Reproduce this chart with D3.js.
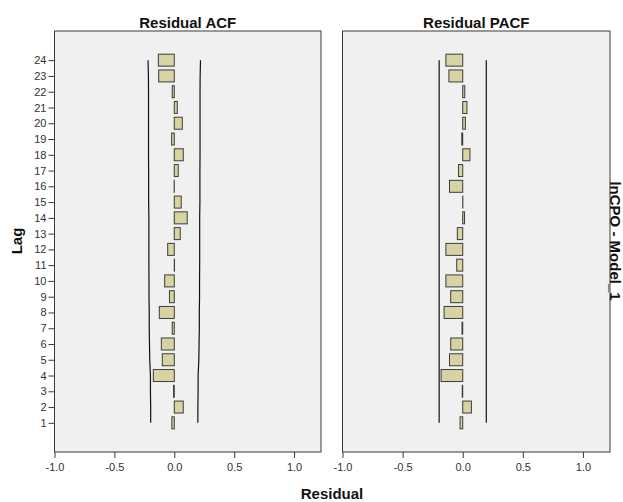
<!DOCTYPE html>
<html>
<head>
<meta charset="utf-8">
<script src="https://cdn.jsdelivr.net/npm/d3@7/dist/d3.min.js"></script>
<style>
  html, body { margin: 0; padding: 0; background: #ffffff; }
  svg { display: block; }
  text { font-family: "Liberation Sans", Arial, sans-serif; }
</style>
</head>
<body>
<svg id="chart" width="623" height="502"></svg>
<script>
// Residual diagnostics for lnCPO - Model_1
const lags = d3.range(1, 25);
const acfValues = [-0.02, 0.075, -0.006, -0.175, -0.1, -0.108, -0.017, -0.125, -0.04, -0.08,
                   0.002, -0.055, 0.05, 0.108, 0.058, -0.001, 0.033, 0.075, -0.022, 0.067,
                   0.025, -0.017, -0.13, -0.133];
const pacfValues = [-0.022, 0.072, -0.004, -0.18, -0.11, -0.1, -0.006, -0.155, -0.1, -0.14,
                    -0.05, -0.14, -0.045, 0.015, 0.001, -0.11, -0.035, 0.06, -0.008, 0.022,
                    0.035, 0.017, -0.115, -0.14];
// 95% confidence limits (upper; lower is symmetric)
const acfLimit = [0.197, 0.197, 0.199, 0.199, 0.205, 0.207, 0.209, 0.209, 0.211, 0.211,
                  0.212, 0.212, 0.212, 0.212, 0.214, 0.214, 0.214, 0.215, 0.215, 0.215,
                  0.215, 0.215, 0.216, 0.219];
const pacfLimit = lags.map(() => 0.196);
const xTicks = [-1.0, -0.5, 0.0, 0.5, 1.0];
const yTicks = lags;

const svg = d3.select("#chart");
const plotTop = 31, plotBottom = 452;
const panels = [
  { title: "Residual ACF", values: acfValues, limit: acfLimit, left: 54.5, right: 321, yAxis: true },
  { title: "Residual PACF", values: pacfValues, limit: pacfLimit, left: 342.5, right: 610, yAxis: false }
];

const y = d3.scaleLinear().domain([-0.85, 25.85]).range([plotBottom, plotTop]);
const barH = y(0) - y(0.76);

panels.forEach(p => {
  const x = d3.scaleLinear().domain([-1, 1.225]).range([p.left, p.right]);
  const g = svg.append("g");

  g.append("rect")
    .attr("x", p.left).attr("y", plotTop)
    .attr("width", p.right - p.left).attr("height", plotBottom - plotTop)
    .attr("fill", "#f0f0f0").attr("stroke", "#3a3a3a").attr("stroke-width", 1);

  g.append("text")
    .attr("x", (p.left + p.right) / 2).attr("y", 28)
    .attr("text-anchor", "middle").attr("font-size", 15).attr("font-weight", "bold")
    .attr("fill", "#111").text(p.title);

  // x axis
  const xAxis = d3.axisBottom(x).tickValues(xTicks).tickSizeOuter(0).tickSize(6).tickPadding(5);
  const xa = g.append("g").attr("transform", `translate(0,${plotBottom})`).call(xAxis);
  xa.select(".domain").remove();
  xa.selectAll("line").attr("stroke", "#3a3a3a");
  xa.selectAll("text").attr("font-size", 11).attr("fill", "#333")
    .attr("font-family", "Liberation Sans, Arial, sans-serif")
    .text(d => d.toFixed(1));

  if (p.yAxis) {
    const yAxis = d3.axisLeft(y).tickValues(yTicks).tickFormat(d3.format("d")).tickSize(6).tickPadding(2);
    const ya = g.append("g").attr("transform", `translate(${p.left},0)`).call(yAxis);
    ya.select(".domain").remove();
    ya.selectAll("line").attr("stroke", "#3a3a3a");
    ya.selectAll("text").attr("font-size", 11).attr("fill", "#333")
      .attr("font-family", "Liberation Sans, Arial, sans-serif");
  }

  // confidence limits
  const line = d3.line().x(d => x(d[0])).y(d => y(d[1]));
  g.append("path").datum(lags.map((l, i) => [p.limit[i], l]))
    .attr("d", line).attr("fill", "none").attr("stroke", "#111").attr("stroke-width", 1.2);
  g.append("path").datum(lags.map((l, i) => [-p.limit[i], l]))
    .attr("d", line).attr("fill", "none").attr("stroke", "#111").attr("stroke-width", 1.2);

  // bars
  g.selectAll("rect.bar").data(p.values).enter().append("rect")
    .attr("class", "bar")
    .attr("x", d => x(Math.min(0, d)))
    .attr("width", d => Math.abs(x(d) - x(0)))
    .attr("y", (d, i) => y(lags[i]) - barH / 2)
    .attr("height", barH)
    .attr("fill", "#d8d4a2").attr("stroke", "#3c3c3c").attr("stroke-width", 1);
});

svg.append("text")
  .attr("transform", "translate(22,241) rotate(-90)")
  .attr("text-anchor", "middle").attr("font-size", 15).attr("font-weight", "bold")
  .attr("fill", "#111").text("Lag");

svg.append("text")
  .attr("x", 332).attr("y", 499)
  .attr("text-anchor", "middle").attr("font-size", 15).attr("font-weight", "bold")
  .attr("fill", "#111").text("Residual");

svg.append("text")
  .attr("transform", "translate(610,241) rotate(90)")
  .attr("text-anchor", "middle").attr("font-size", 15).attr("font-weight", "bold")
  .attr("fill", "#111").text("lnCPO - Model_1");
</script>
</body>
</html>
